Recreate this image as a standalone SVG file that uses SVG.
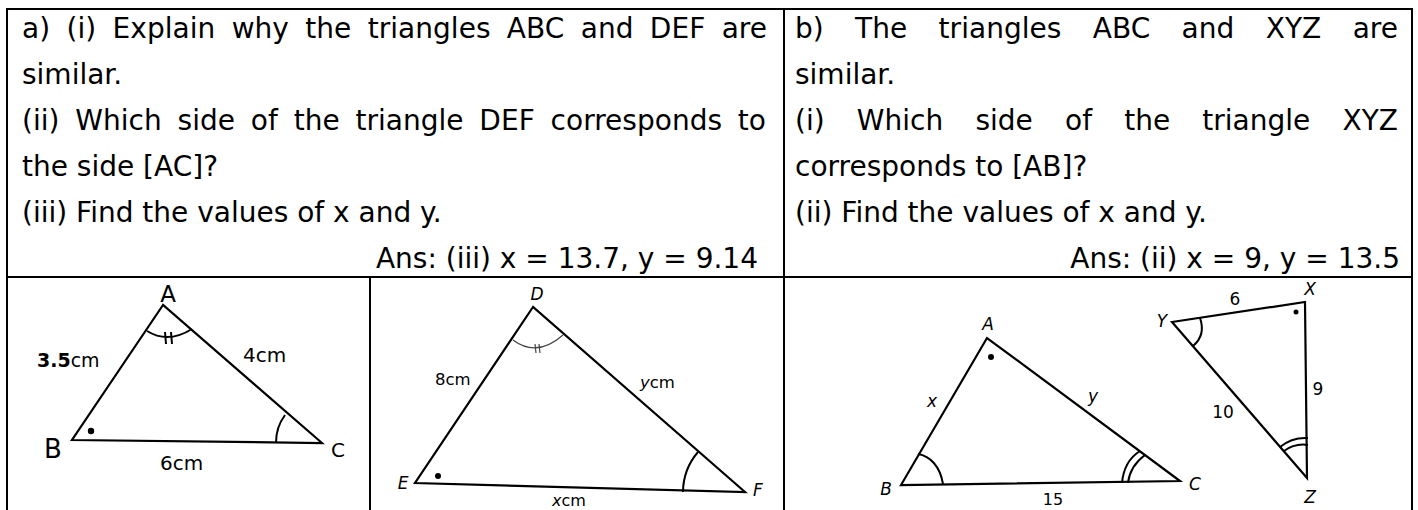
<svg xmlns="http://www.w3.org/2000/svg" width="1418" height="510" viewBox="0 0 1418 510">
<style>
.q{font-family:"DejaVu Sans","Liberation Sans",sans-serif;font-size:28px;fill:#000}
.tl{stroke:#000;stroke-width:2;fill:none}
.tri{stroke:#000;stroke-width:2.2;fill:none;stroke-linejoin:miter}
.arc{stroke:#000;stroke-width:2;fill:none}
.lb{font-family:"DejaVu Sans","Liberation Sans",sans-serif;fill:#000}
.it{font-style:italic}
</style>
<rect width="1418" height="510" fill="#fff"/>
<g id="table">
<line class="tl" x1="6" y1="9" x2="1413" y2="9"/>
<line class="tl" x1="7" y1="8" x2="7" y2="510"/>
<line class="tl" x1="1412" y1="8" x2="1412" y2="510"/>
<line class="tl" x1="6" y1="277" x2="1413" y2="277"/>
<line class="tl" x1="784" y1="9" x2="784" y2="510"/>
<line class="tl" x1="370" y1="277" x2="370" y2="510"/>
</g>
<g id="cell-a-text">
<text class="q" x="22" y="38" word-spacing="7.4" textLength="745" lengthAdjust="spacing">a) (i) Explain why the triangles ABC and DEF are</text>
<text class="q" x="22" y="84">similar.</text>
<text class="q" x="22" y="130" word-spacing="6.9" textLength="744" lengthAdjust="spacing">(ii) Which side of the triangle DEF corresponds to</text>
<text class="q" x="22" y="176">the side [AC]?</text>
<text class="q" x="22" y="222">(iii) Find the values of x and y.</text>
<text class="q" x="758" y="268" text-anchor="end">Ans: (iii) x = 13.7, y = 9.14</text>
</g>
<g id="cell-b-text">
<text class="q" x="795" y="38" word-spacing="22.4" textLength="603" lengthAdjust="spacing">b) The triangles ABC and XYZ are</text>
<text class="q" x="795" y="84">similar.</text>
<text class="q" x="795" y="130" word-spacing="23.3" textLength="603" lengthAdjust="spacing">(i) Which side of the triangle XYZ</text>
<text class="q" x="795" y="176">corresponds to [AB]?</text>
<text class="q" x="795" y="222">(ii) Find the values of x and y.</text>
<text class="q" x="1400" y="268" text-anchor="end">Ans: (ii) x = 9, y = 13.5</text>
</g>
<g id="fig-abc-a">
<polygon class="tri" points="163,305 72,440 322,443" stroke-width="2.6"/>
<path class="arc" d="M147,331 Q168,344 192,329"/>
<path class="arc" d="M165,332 L166,344 M171,332 L172,344"/>
<path class="arc" d="M285,415 A46,46 0 0,0 276,443"/>
<circle cx="91" cy="431" r="3.2"/>
<text class="lb" x="168" y="302" font-size="23" text-anchor="middle">A</text>
<text class="lb" x="53" y="458" font-size="26" text-anchor="middle">B</text>
<text class="lb" x="338" y="457" font-size="20" text-anchor="middle">C</text>
<text class="lb" x="37" y="367" font-size="19"><tspan font-weight="bold">3.5</tspan>cm</text>
<text class="lb" x="243" y="362" font-size="20">4cm</text>
<text class="lb" x="160" y="470" font-size="20">6cm</text>
</g>
<g id="fig-def">
<polygon class="tri" points="533,307 415,483 745,492"/>
<path d="M513,340 Q537,358 563,335" fill="none" stroke="#444" stroke-width="1.2"/>
<path d="M535,344 L536,353 M539,344 L540,353" fill="none" stroke="#444" stroke-width="1.2"/>
<path class="arc" d="M698,452 A62,62 0 0,0 683,492" stroke-width="3"/>
<circle cx="438" cy="476" r="3"/>
<text class="lb it" x="537" y="300" font-size="17" text-anchor="middle">D</text>
<text class="lb it" x="403" y="489" font-size="17" text-anchor="middle">E</text>
<text class="lb it" x="758" y="496" font-size="17" text-anchor="middle">F</text>
<text class="lb" x="435" y="385" font-size="16.5">8cm</text>
<text class="lb" x="640" y="388" font-size="16.5"><tspan class="it">y</tspan>cm</text>
<text class="lb" x="552" y="506" font-size="16">
<tspan class="it">x</tspan>cm</text>
</g>
<g id="fig-abc-b">
<polygon class="tri" points="987,338 901,485 1180,481"/>
<circle cx="991" cy="357" r="3"/>
<path class="arc" d="M918,454 C930,456 940,466 943,484"/>
<path class="arc" d="M1140,451 Q1124,461 1122,483"/>
<path class="arc" d="M1145,455 Q1130,466 1128,483"/>
<text class="lb it" x="988" y="330" font-size="17" text-anchor="middle">A</text>
<text class="lb it" x="886" y="495" font-size="17" text-anchor="middle">B</text>
<text class="lb it" x="1195" y="490" font-size="17" text-anchor="middle">C</text>
<text class="lb it" x="932" y="407" font-size="17" text-anchor="middle">x</text>
<text class="lb it" x="1093" y="402" font-size="17" text-anchor="middle">y</text>
<text class="lb" x="1053" y="505" font-size="16" text-anchor="middle">15</text>
</g>
<g id="fig-xyz">
<polygon class="tri" points="1172,322 1305,302 1307,478"/>
<circle cx="1296" cy="312" r="2.5"/>
<path class="arc" d="M1200,318 Q1206,335 1193,346"/>
<path class="arc" d="M1280,447 Q1292,437 1308,438"/>
<path class="arc" d="M1284,451 Q1295,443 1308,445"/>
<text class="lb it" x="1310" y="295" font-size="17" text-anchor="middle">X</text>
<text class="lb it" x="1162" y="327" font-size="17" text-anchor="middle">Y</text>
<text class="lb it" x="1310" y="503" font-size="17" text-anchor="middle">Z</text>
<text class="lb" x="1235" y="305" font-size="17" text-anchor="middle">6</text>
<text class="lb" x="1318" y="395" font-size="17" text-anchor="middle">9</text>
<text class="lb" x="1223" y="418" font-size="17" text-anchor="middle">10</text>
</g>
</svg>
